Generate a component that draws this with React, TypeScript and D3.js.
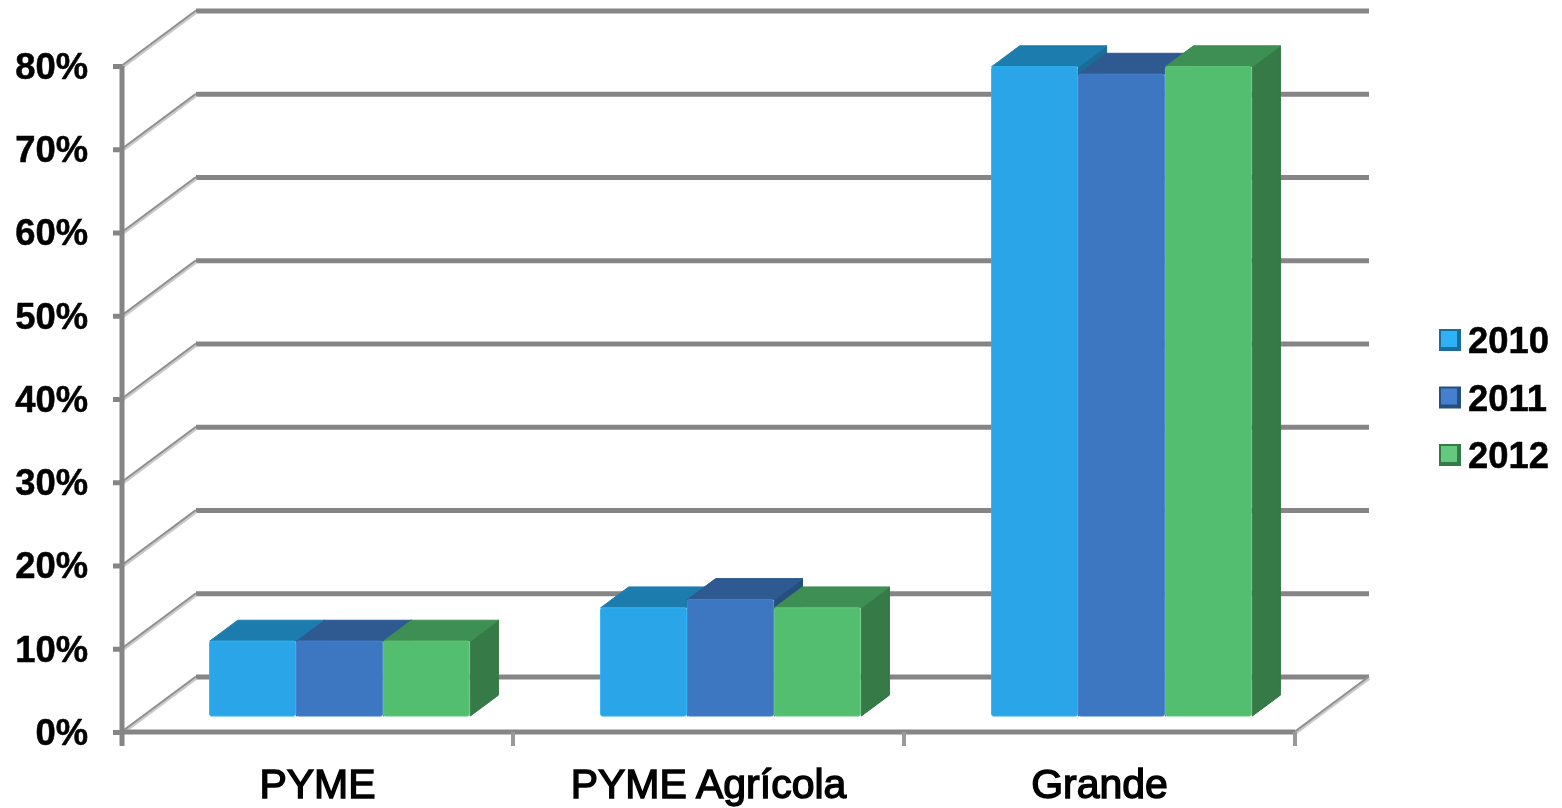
import React, { useEffect, useRef } from 'react';
import * as d3 from 'd3';

const categories = ['PYME', 'PYME Agrícola', 'Grande'];
const years = ['2010', '2011', '2012'];
const values2010 = [9, 13, 78];
const values2011 = [9, 14, 77.1];
const values2012 = [9, 13, 78];
const yTicks = [0, 10, 20, 30, 40, 50, 60, 70, 80];

const seriesValues = [values2010, values2011, values2012];
const frontColors = ['#29a6e8', '#3d76c1', '#52bd6f'];
const topColors = ['#1f7cad', '#2e5a91', '#3d8f52'];
const sideColors = ['#1a6c98', '#27507f', '#347a46'];
const edgeColors = ['#2fb2f5', '#4480cf', '#62c97e'];

const WIDTH = 1562;
const HEIGHT = 808;
const FONT = '"Liberation Sans", Arial, sans-serif';
const GRID = '#858585';

// how far the back wall is pushed from the front plane
const DEPTH_X = 74;
const DEPTH_Y = -55;
// bars stand between these two fractions of the floor depth
const BAR_FRONT = 0.29;
const BAR_BACK = 0.67;

const App: React.FC = () => {
  const ref = useRef<SVGSVGElement>(null);

  useEffect(() => {
    const svg = d3.select(ref.current);
    svg.selectAll('*').remove();

    const x = d3.scaleBand().domain(categories).range([122, 1295]);
    const inner = d3
      .scaleBand()
      .domain(years)
      .range([1, x.bandwidth() + 1])
      .paddingOuter(0.75)
      .paddingInner(0);
    const y = d3.scaleLinear().domain([0, 80]).range([732, 66]);

    const defs = svg.append('defs');
    defs
      .append('filter')
      .attr('id', 'soft')
      .attr('filterUnits', 'userSpaceOnUse')
      .attr('x', 0)
      .attr('y', 0)
      .attr('width', WIDTH)
      .attr('height', HEIGHT)
      .append('feGaussianBlur')
      .attr('stdDeviation', 0.65);

    const root = svg.append('g').attr('filter', 'url(#soft)');

    // back wall lines
    root
      .append('g')
      .selectAll('line')
      .data(yTicks)
      .enter()
      .append('line')
      .attr('x1', 122 + DEPTH_X)
      .attr('x2', 1295 + DEPTH_X)
      .attr('y1', (d) => y(d) + DEPTH_Y)
      .attr('y2', (d) => y(d) + DEPTH_Y)
      .attr('stroke', GRID)
      .attr('stroke-width', 5);

    // side wall diagonals, light underlay with the darker line on top
    const diagonals = root.append('g');
    const diagonalStarts = yTicks.map((d) => ({ px: 122, py: y(d) }));
    diagonalStarts.push({ px: 1295, py: y(0) });
    diagonals
      .selectAll('line.under')
      .data(diagonalStarts)
      .enter()
      .append('line')
      .attr('class', 'under')
      .attr('x1', (d) => d.px)
      .attr('y1', (d) => d.py + 1)
      .attr('x2', (d) => d.px + DEPTH_X)
      .attr('y2', (d) => d.py + DEPTH_Y + 1)
      .attr('stroke', '#cacaca')
      .attr('stroke-width', 4);
    diagonals
      .selectAll('line.over')
      .data(diagonalStarts)
      .enter()
      .append('line')
      .attr('class', 'over')
      .attr('x1', (d) => d.px)
      .attr('y1', (d) => d.py - 0.5)
      .attr('x2', (d) => d.px + DEPTH_X)
      .attr('y2', (d) => d.py + DEPTH_Y - 0.5)
      .attr('stroke', '#909090')
      .attr('stroke-width', 2);

    // axes
    const yAxis = d3
      .axisLeft(y)
      .tickValues(yTicks)
      .tickSize(9)
      .tickPadding(25)
      .tickFormat((d) => `${d}%`);
    const xAxis = d3.axisBottom(x).tickSize(0).tickPadding(0);

    const yG = root.append('g').attr('transform', 'translate(122,0)').call(yAxis);
    const xG = root.append('g').attr('transform', 'translate(0,732)').call(xAxis);

    yG.select('.domain').remove();
    xG.select('.domain').remove();
    yG.selectAll('line').attr('stroke', GRID).attr('stroke-width', 5);
    yG.selectAll('text')
      .attr('font-family', FONT)
      .attr('font-weight', 'bold')
      .attr('font-size', 36.4)
      .attr('fill', '#000')
      .attr('stroke', '#000')
      .attr('stroke-width', 0.5)
      .attr('dy', '0.34em');
    xG.selectAll('text')
      .attr('font-family', FONT)
      .attr('font-weight', 'normal')
      .attr('font-size', 41)
      .attr('fill', '#000')
      .attr('stroke', '#000')
      .attr('stroke-width', 1.4)
      .attr('y', 66)
      .attr('dy', 0);

    root
      .append('line')
      .attr('x1', 122)
      .attr('x2', 1295)
      .attr('y1', y(0))
      .attr('y2', y(0))
      .attr('stroke', GRID)
      .attr('stroke-width', 5);
    root
      .append('line')
      .attr('x1', 122)
      .attr('x2', 122)
      .attr('y1', y(80))
      .attr('y2', y(0) + 14)
      .attr('stroke', GRID)
      .attr('stroke-width', 5);
    root
      .append('g')
      .selectAll('line')
      .data([513, 904, 1295])
      .enter()
      .append('line')
      .attr('x1', (d) => d)
      .attr('x2', (d) => d)
      .attr('y1', y(0))
      .attr('y2', y(0) + 14)
      .attr('stroke', '#999')
      .attr('stroke-width', 4);

    // bars, left to right so each one covers the side of the previous
    const fx = BAR_FRONT * DEPTH_X;
    const fy = BAR_FRONT * DEPTH_Y;
    const dx = (BAR_BACK - BAR_FRONT) * DEPTH_X;
    const dy = (BAR_BACK - BAR_FRONT) * DEPTH_Y;

    categories.forEach((cat, c) => {
      const group = root.append('g');
      years.forEach((year, s) => {
        const left = (x(cat) as number) + (inner(year) as number) + fx;
        const right = left + inner.bandwidth();
        const top = y(seriesValues[s][c]) + fy;
        const bottom = y(0) + fy;

        const poly = (pts: number[][], fill: string) =>
          group
            .append('polygon')
            .attr('points', pts.map((p) => p.join(',')).join(' '))
            .attr('fill', fill)
            .attr('stroke', fill)
            .attr('stroke-width', 1)
            .attr('stroke-linejoin', 'round');

        poly(
          [
            [right, top],
            [right + dx, top + dy],
            [right + dx, bottom + dy],
            [right, bottom],
          ],
          sideColors[s]
        );
        poly(
          [
            [left, top],
            [left + dx, top + dy],
            [right + dx, top + dy],
            [right, top],
          ],
          topColors[s]
        );
        group
          .append('rect')
          .attr('x', left)
          .attr('y', top)
          .attr('width', inner.bandwidth() - 1)
          .attr('height', bottom - top)
          .attr('rx', 2)
          .attr('fill', frontColors[s])
          .attr('stroke', edgeColors[s])
          .attr('stroke-width', 1);
      });
    });

    // legend
    const legendY = d3.scalePoint().domain(years).range([340, 455]);
    const legend = root
      .append('g')
      .selectAll('g')
      .data(years)
      .enter()
      .append('g')
      .attr('transform', (d) => `translate(1439,${legendY(d)})`);
    legend
      .append('rect')
      .attr('x', 0)
      .attr('y', -11)
      .attr('width', 22)
      .attr('height', 22)
      .attr('fill', (_, i) => sideColors[i]);
    legend
      .append('rect')
      .attr('x', 2)
      .attr('y', -9)
      .attr('width', 16)
      .attr('height', 16)
      .attr('fill', (_, i) => edgeColors[i]);
    legend
      .append('text')
      .attr('x', 29)
      .attr('y', 0)
      .attr('dy', '0.36em')
      .attr('font-family', FONT)
      .attr('font-weight', 'bold')
      .attr('font-size', 36.4)
      .attr('fill', '#000')
      .attr('stroke', '#000')
      .attr('stroke-width', 0.5)
      .text((d) => d);
  }, []);

  return (
    <svg
      ref={ref}
      width={WIDTH}
      height={HEIGHT}
      style={{ position: 'absolute', left: 0, top: 0, background: '#fff' }}
    />
  );
};

export default App;
